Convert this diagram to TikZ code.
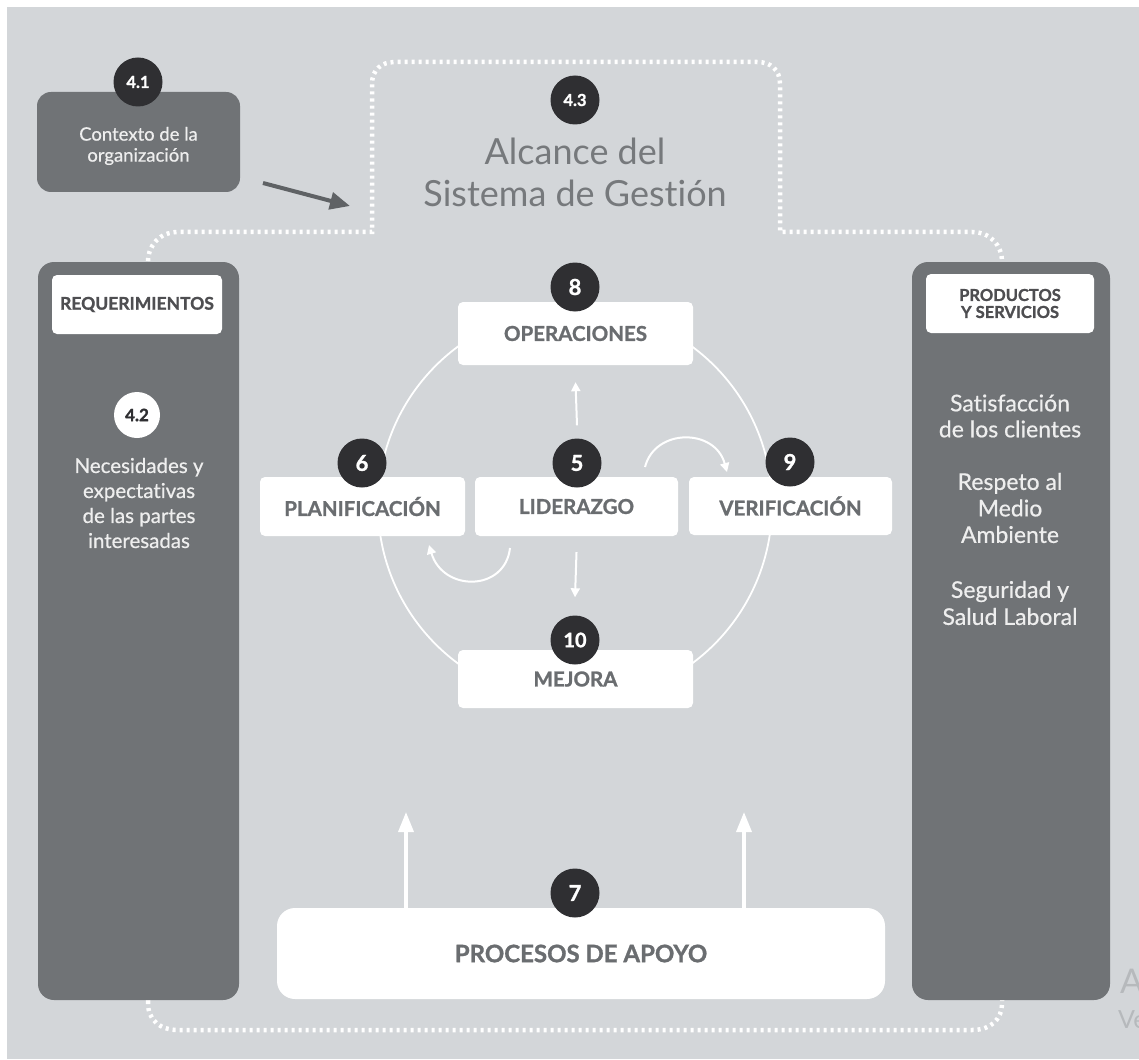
\documentclass[tikz,border=0pt]{standalone}
\usepackage{fontspec}
\setmainfont{Lato}[Ligatures=NoCommon, BoldFeatures={FakeBold=1.2}]
\newfontfamily\medfont{Lato}[Ligatures=NoCommon, FakeBold=0.6]
\usetikzlibrary{arrows.meta}

\definecolor{bg}{HTML}{D3D6D9}
\definecolor{panel}{HTML}{707376}
\definecolor{badgefill}{HTML}{2F2F32}
\definecolor{boxtext}{HTML}{6A6D70}
\definecolor{paneltext}{HTML}{EEEEEE}
\definecolor{scopetext}{HTML}{76797C}
\definecolor{arrowgrey}{HTML}{5F6265}
\definecolor{faint}{HTML}{B6B9BC}

\begin{document}
\begin{tikzpicture}[x=1pt,y=-1pt,
  wbox/.style={fill=white, rounded corners=5pt, text=boxtext, inner sep=0pt,
    font=\bfseries\fontsize{20.5}{22}\selectfont},
  panelbox/.style={fill=panel, rounded corners=16pt, inner sep=0pt},
  tagbox/.style={fill=white, rounded corners=5pt, text=badgefill!85!white, inner sep=0pt, align=center},
  badge/.style={circle, fill=badgefill, text=white, minimum size=49pt, inner sep=0pt,
    font=\bfseries\fontsize{22}{22}\selectfont},
  smallbadge/.style={badge, font=\bfseries\fontsize{16.5}{16.5}\selectfont},
  paneltxt/.style={text=paneltext, align=center, inner sep=0pt},
  warrow/.style={draw=white, line width=2pt, -{Triangle[length=9pt,width=9pt]}},
  bigarrow/.style={draw=white, line width=3.5pt, -{Triangle[length=20pt,width=15pt]}},
  dotline/.style={draw=white, line width=4.5pt, dash pattern=on 3pt off 4pt},
]

% canvas
\useasboundingbox (0,0) rectangle (1139,1059);
\fill[bg] (7,7) rectangle (1139,1059);

% scope outline of the management system
\path[dotline] (148,1003) -- (148,262)
  .. controls (148,245) and (160,232) .. (178,232) -- (372,232) -- (372,84)
  .. controls (372,70) and (381,62) .. (395,62) -- (757,62)
  .. controls (771,62) and (780,70) .. (780,84) -- (780,232) -- (972,232)
  .. controls (990,232) and (1002,245) .. (1002,262) -- (1002,1003)
  .. controls (1002,1020) and (990,1030) .. (972,1030) -- (178,1030)
  .. controls (160,1030) and (148,1020) .. (148,1003) -- cycle;

% 4.1 context
\node[panelbox, rounded corners=14pt, minimum width=203pt, minimum height=100pt] (ctx) at (138.5,142) {};
\node[paneltxt, font=\medfont\fontsize{18.5}{21}\selectfont] (ctxt) at (138.5,146) {Contexto de la\\organización};
\node[smallbadge] (b41) at (138,82) {4.1};
\coordinate (ca) at (263,183);
\coordinate (cb) at (350,206);
\draw[arrowgrey, line width=4pt, -{Triangle[length=20pt,width=17pt]}] (ca) -- (cb);

% 4.3 scope title
\node[smallbadge] (b43) at (575,100) {4.3};
\node[text=scopetext, align=center, inner sep=0pt, font=\fontsize{36}{42}\selectfont] (scope) at (575,172) {Alcance del\\Sistema de Gestión};

% side panels
\node[panelbox, minimum width=201pt, minimum height=738pt] (req) at (138.5,631) {};
\node[tagbox, minimum width=170pt, minimum height=59pt, font=\bfseries\fontsize{17.5}{17.5}\selectfont] (reqt) at (137,304.5) {REQUERIMIENTOS};
\node[circle, fill=white, text=badgefill, minimum size=46pt, inner sep=0pt, font=\bfseries\fontsize{17}{17}\selectfont] (b42) at (137,415) {4.2};
\node[paneltxt, font=\medfont\fontsize{20.5}{25}\selectfont] (needs) at (139,503) {Necesidades y\\expectativas\\de las partes\\interesadas};

\node[panelbox, minimum width=198pt, minimum height=738pt] (prod) at (1011,631) {};
\node[tagbox, minimum width=168pt, minimum height=59pt, font=\bfseries\fontsize{16.5}{17}\selectfont] (prodt) at (1010,303.5) {PRODUCTOS\\Y SERVICIOS};
\node[paneltxt, font=\medfont\fontsize{23}{26}\selectfont] (sat) at (1010,416) {Satisfacción\\de los clientes};
\node[paneltxt, font=\medfont\fontsize{23}{26.5}\selectfont] (env) at (1010,508) {Respeto al\\Medio\\Ambiente};
\node[paneltxt, font=\medfont\fontsize{23}{27}\selectfont] (ohs) at (1010,603) {Seguridad y\\Salud Laboral};

% PDCA cycle
\draw[white, line width=1.8pt] (575,505) circle (197pt);

\node[wbox, minimum width=235pt, minimum height=63pt] (op) at (575.5,333.5) {OPERACIONES};
\node[wbox, minimum width=205pt, minimum height=59pt] (plan) at (362.5,506.5) {PLANIFICACIÓN};
\node[wbox, minimum width=203pt, minimum height=59pt] (lid) at (576.5,506.5) {LIDERAZGO};
\node[wbox, minimum width=203pt, minimum height=58pt] (ver) at (790.5,506) {VERIFICACIÓN};
\node[wbox, minimum width=235pt, minimum height=58pt] (mej) at (575.5,679) {MEJORA};

\node[badge] (b8) at (575,287) {8};
\node[badge] (b6) at (362,463) {6};
\node[badge] (b5) at (577,463) {5};
\node[badge] (b9) at (790,462) {9};
\node[badge, font=\bfseries\fontsize{20}{20}\selectfont] (b10) at (575,640) {10};

\draw[warrow] ([yshift=13pt]b5.north) -- ([yshift=-17pt]op.south);
\draw[warrow] ([yshift=-16pt]lid.south) -- ([yshift=18pt]b10.north);

\coordinate (r1) at (645,467);
\coordinate (r2) at (727,472);
\draw[warrow] (r1) .. controls (655,428) and (715,428) .. (r2);
\coordinate (l1) at (510,548);
\coordinate (l2) at (429,545);
\draw[warrow] (l1) .. controls (505,592) and (443,592) .. (l2);

% support processes
\node[fill=white, rounded corners=18pt, minimum width=608pt, minimum height=91pt, inner sep=0pt,
  text=boxtext, font=\bfseries\fontsize{24}{24}\selectfont] (apoyo) at (581,953.5) {PROCESOS DE APOYO};
\node[badge] (b7) at (575,893) {7};
\coordinate (t1) at (406,812);
\coordinate (t2) at (744,812);
\draw[bigarrow] (apoyo.north -| t1) -- (t1);
\draw[bigarrow] (apoyo.north -| t2) -- (t2);

% faint text at the right edge
\node[anchor=base west, inner sep=0pt, text=faint, font=\fontsize{34}{34}\selectfont] (wa) at (1120,993) {A};
\node[anchor=base west, inner sep=0pt, text=faint, font=\fontsize{25}{25}\selectfont] (wv) at (1118,1028) {Ve};

\end{tikzpicture}
\end{document}
